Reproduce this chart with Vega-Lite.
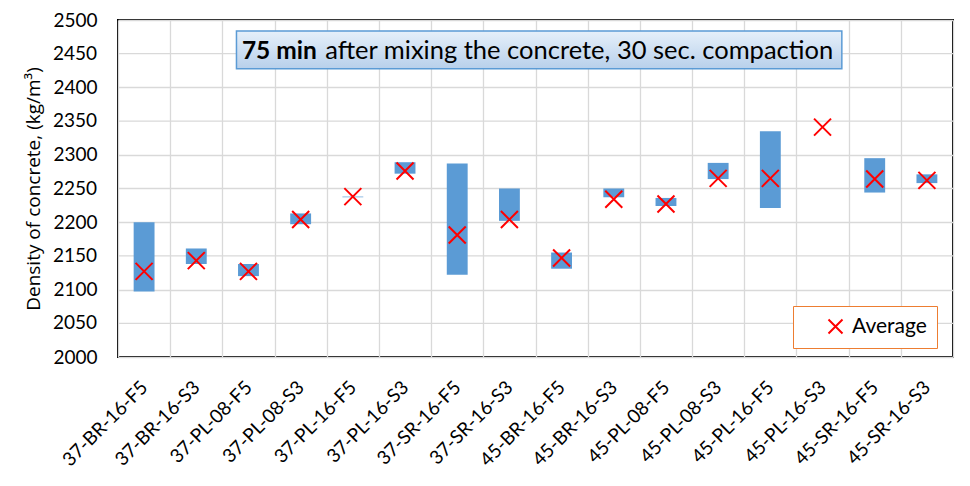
{
  "$schema": "https://vega.github.io/schema/vega-lite/v6.json",
  "width": 835,
  "height": 337,
  "autosize": {"type": "none"},
  "padding": {"left": 118, "top": 20, "right": 17, "bottom": 129},
  "background": "#FFFFFF",
  "config": {
    "view": {"stroke": "#000000", "strokeWidth": 2},
    "font": "Lato"
  },
  "datasets": {
    "density": [
      {"mix": "37-BR-16-F5", "min": 2097, "max": 2200, "avg": 2127},
      {"mix": "37-BR-16-S3", "min": 2138, "max": 2161, "avg": 2143},
      {"mix": "37-PL-08-F5", "min": 2120, "max": 2138, "avg": 2127},
      {"mix": "37-PL-08-S3", "min": 2197, "max": 2213, "avg": 2204},
      {"mix": "37-PL-16-F5", "min": 2237, "max": 2238, "avg": 2238},
      {"mix": "37-PL-16-S3", "min": 2272, "max": 2289, "avg": 2276},
      {"mix": "37-SR-16-F5", "min": 2122, "max": 2287, "avg": 2181},
      {"mix": "37-SR-16-S3", "min": 2202, "max": 2250, "avg": 2204},
      {"mix": "45-BR-16-F5", "min": 2131, "max": 2155, "avg": 2147},
      {"mix": "45-BR-16-S3", "min": 2237, "max": 2250, "avg": 2234},
      {"mix": "45-PL-08-F5", "min": 2224, "max": 2236, "avg": 2227},
      {"mix": "45-PL-08-S3", "min": 2264, "max": 2288, "avg": 2265},
      {"mix": "45-PL-16-F5", "min": 2221, "max": 2335, "avg": 2265},
      {"mix": "45-PL-16-S3", "min": null, "max": null, "avg": 2341},
      {"mix": "45-SR-16-F5", "min": 2244, "max": 2295, "avg": 2264},
      {"mix": "45-SR-16-S3", "min": 2258, "max": 2271, "avg": 2262}
    ],
    "gridlines": [
      {"level": 2050, "label": "2050"},
      {"level": 2150, "label": "2150"},
      {"level": 2250, "label": "2250"},
      {"level": 2350, "label": "2350"},
      {"level": 2450, "label": "2450"}
    ],
    "notebox": [
      {"x1": 2.27, "x2": 13.87, "y1": 2427.7, "y2": 2483.7}
    ],
    "notetext": [
      {"x": 3.81, "y": 2442.6, "t": "75 min", "part": "bold"},
      {"x": 3.97, "y": 2442.6, "t": "after mixing the concrete, 30 sec. compaction", "part": "regular"}
    ]
  },
  "layer": [
    {
      "data": {"name": "gridlines"},
      "mark": {"type": "rule", "color": "#D9D9D9", "strokeWidth": 1.3},
      "encoding": {
        "y": {"field": "level", "type": "quantitative"}
      }
    },
    {
      "data": {"name": "density"},
      "layer": [
        {
          "mark": {"type": "bar", "color": "#5B9BD5", "width": {"band": 0.4}},
          "encoding": {
            "x": {
              "field": "mix", "type": "nominal",
              "sort": ["37-BR-16-F5", "37-BR-16-S3", "37-PL-08-F5", "37-PL-08-S3", "37-PL-16-F5", "37-PL-16-S3", "37-SR-16-F5", "37-SR-16-S3", "45-BR-16-F5", "45-BR-16-S3", "45-PL-08-F5", "45-PL-08-S3", "45-PL-16-F5", "45-PL-16-S3", "45-SR-16-F5", "45-SR-16-S3"],
              "scale": {
                "domain": ["37-BR-16-F5", "37-BR-16-S3", "37-PL-08-F5", "37-PL-08-S3", "37-PL-16-F5", "37-PL-16-S3", "37-SR-16-F5", "37-SR-16-S3", "45-BR-16-F5", "45-BR-16-S3", "45-PL-08-F5", "45-PL-08-S3", "45-PL-16-F5", "45-PL-16-S3", "45-SR-16-F5", "45-SR-16-S3"],
                "paddingInner": 0, "paddingOuter": 0
              },
              "axis": {
                "title": null,
                "labelAngle": -45,
                "labelAlign": "right",
                "labelBaseline": "middle",
                "labelFont": "Lato",
                "labelFontSize": 19,
                "labelColor": "#000000",
                "labelPadding": 27,
                "labelOverlap": false,
                "labelBound": false,
                "ticks": false,
                "domain": false,
                "grid": true,
                "gridColor": "#D9D9D9",
                "gridWidth": 1.3,
                "tickBand": "extent"
              }
            },
            "y": {
              "field": "min", "type": "quantitative",
              "scale": {"domain": [2000, 2500], "nice": false, "zero": false},
              "axis": {
                "title": "Density of concrete, (kg/m³)",
                "values": [2000, 2100, 2200, 2300, 2400, 2500],
                "format": "d",
                "labelOverlap": false,
                "labelFont": "Lato",
                "labelFontSize": 19,
                "labelColor": "#000000",
                "labelPadding": 21,
                "ticks": false,
                "domain": false,
                "grid": true,
                "gridColor": "#D9D9D9",
                "gridWidth": 1.3,
                "titleFont": "Open Sans",
                "titleFontSize": 19,
                "titleFontWeight": "normal",
                "titleColor": "#000000",
                "titlePadding": 9
              }
            },
            "y2": {"field": "max"}
          }
        },
        {
          "mark": {
            "type": "point",
            "shape": "M-1,-1L1,1M-1,1L1,-1",
            "size": 289,
            "strokeWidth": 2,
            "filled": false,
            "opacity": 1
          },
          "encoding": {
            "x": {"field": "mix", "type": "nominal",
              "sort": ["37-BR-16-F5", "37-BR-16-S3", "37-PL-08-F5", "37-PL-08-S3", "37-PL-16-F5", "37-PL-16-S3", "37-SR-16-F5", "37-SR-16-S3", "45-BR-16-F5", "45-BR-16-S3", "45-PL-08-F5", "45-PL-08-S3", "45-PL-16-F5", "45-PL-16-S3", "45-SR-16-F5", "45-SR-16-S3"]},
            "y": {"field": "avg", "type": "quantitative"},
            "color": {
              "datum": "Average",
              "type": "nominal",
              "scale": {"range": ["#FF0000"]},
              "legend": {
                "title": null,
                "orient": "none",
                "legendX": 675,
                "legendY": 286,
                "strokeColor": "#ED7D31",
                "fillColor": "#FFFFFF",
                "padding": 10,
                "symbolType": "M-1,-1L1,1M-1,1L1,-1",
                "symbolSize": 196,
                "symbolStrokeWidth": 2,
                "symbolStrokeColor": "#FF0000",
                "symbolOffset": 22,
                "labelOffset": 6,
                "labelFont": "Lato",
                "labelFontSize": 21,
                "labelColor": "#000000",
                "labelExpr": "datum.label + '\u00a0\u00a0\u00a0'"
              }
            }
          }
        }
      ]
    },
    {
      "layer": [
        {
          "data": {"name": "notebox"},
          "mark": {
            "type": "rect",
            "fill": {
              "gradient": "linear", "x1": 0, "y1": 0, "x2": 0, "y2": 1,
              "stops": [
                {"offset": 0, "color": "#E6F0FA"},
                {"offset": 1, "color": "#B8D0EB"}
              ]
            },
            "stroke": "#5B9BD5",
            "strokeWidth": 1.5
          },
          "encoding": {
            "x": {"field": "x1", "type": "quantitative", "scale": {"domain": [0, 16], "nice": false, "zero": false}, "axis": null},
            "x2": {"field": "x2"},
            "y": {"field": "y1", "type": "quantitative"},
            "y2": {"field": "y2"}
          }
        },
        {
          "data": {"name": "notetext"},
          "transform": [{"filter": "datum.part === 'bold'"}],
          "mark": {"type": "text", "align": "right", "baseline": "alphabetic", "font": "Lato", "fontSize": 24.5, "fontWeight": "bold", "color": "#000000"},
          "encoding": {
            "x": {"field": "x", "type": "quantitative"},
            "y": {"field": "y", "type": "quantitative"},
            "text": {"field": "t"}
          }
        },
        {
          "data": {"name": "notetext"},
          "transform": [{"filter": "datum.part === 'regular'"}],
          "mark": {"type": "text", "align": "left", "baseline": "alphabetic", "font": "Lato", "fontSize": 25.5, "color": "#000000"},
          "encoding": {
            "x": {"field": "x", "type": "quantitative"},
            "y": {"field": "y", "type": "quantitative"},
            "text": {"field": "t"}
          }
        },
        {
          "data": {"name": "gridlines"},
          "mark": {"type": "text", "align": "right", "baseline": "middle", "font": "Lato", "fontSize": 19, "color": "#000000"},
          "encoding": {
            "x": {"datum": -0.4024, "type": "quantitative"},
            "y": {"field": "level", "type": "quantitative"},
            "text": {"field": "label"}
          }
        }
      ]
    }
  ],
  "resolve": {"scale": {"x": "independent"}}
}
